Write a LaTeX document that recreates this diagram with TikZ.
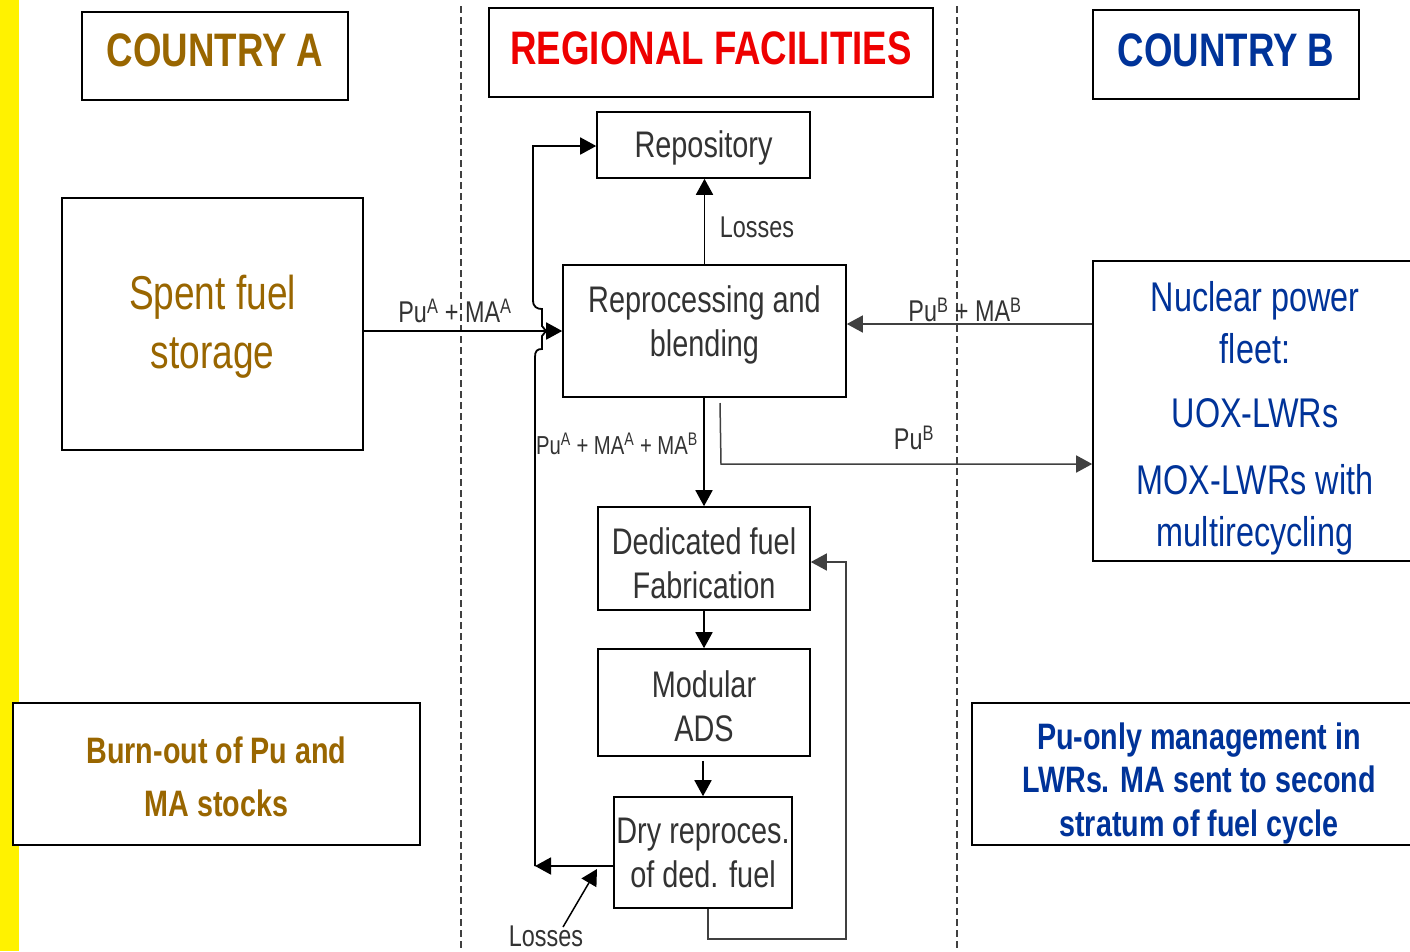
\documentclass[tikz,border=0pt]{standalone}
\usepackage{fontspec}
\setmainfont{Liberation Sans}[FakeStretch=0.78]
\usetikzlibrary{arrows.meta}
\definecolor{brownA}{HTML}{996600}
\definecolor{blueB}{HTML}{003399}
\definecolor{redR}{HTML}{EE0000}
\definecolor{ink}{HTML}{333333}
\definecolor{wire}{HTML}{404040}
\begin{document}
\begin{tikzpicture}[x=1pt,y=-1pt,
  box/.style={draw=black,line width=1.6pt,fill=white,inner sep=0pt,align=center,text=ink},
  txt/.style={inner sep=0pt,align=center},
  headtxt/.style={txt,font=\bfseries\fontsize{47}{56}\selectfont},
  midtxt/.style={txt,text=ink,font=\fontsize{37}{44}\selectfont},
  lbl/.style={inner sep=0pt,text=ink,font=\fontsize{30}{36}\selectfont},
  conn/.style={line width=1.8pt,draw=black,-{Triangle[length=16pt,width=17pt]}},
  gconn/.style={conn,draw=wire,line width=1.5pt},
  zone/.style={draw=wire,line width=1.6pt,dash pattern=on 7pt off 4pt}]
\useasboundingbox (0,0) rectangle (1410,951);
\fill[white] (0,0) rectangle (1410,951);
\fill[yellow] (0,0) rectangle (19,951);
% zone separators
\draw[zone] (461,6) -- (461,951);
\draw[zone] (957,6) -- (957,951);

% headers
\node[box,minimum width=266pt,minimum height=88pt] (cA) at (215,56) {};
\node[headtxt,text=brownA] (cAT) at ([yshift=5.5pt]cA.center) {COUNTRY A};
\node[box,minimum width=444pt,minimum height=89pt] (reg) at (711,52.5) {};
\node[headtxt,text=redR] (regT) at ([yshift=4.5pt]reg.center) {REGIONAL FACILITIES};
\node[box,minimum width=266pt,minimum height=89pt] (cB) at (1226,54.5) {};
\node[headtxt,text=blueB] (cBT) at ([yshift=4.5pt]cB.center) {COUNTRY B};

% country A
\node[box,minimum width=301pt,minimum height=252pt] (sfs) at (212.5,324) {};
\node[txt,text=brownA,font=\fontsize{47.5}{59}\selectfont] (sfsT) at ([yshift=-2.5pt]sfs.center) {Spent fuel\\storage};
\node[box,minimum width=407pt,minimum height=142pt] (burn) at (216.5,774) {};
\node[txt,text=brownA,font=\bfseries\fontsize{36.8}{53}\selectfont] (burnT) at ([yshift=-3pt]burn.center) {Burn-out of Pu and\\MA stocks};

% regional facilities
\node[box,minimum width=213pt,minimum height=66pt] (repo) at (703.5,145) {};
\node[midtxt] (repoT) at ([yshift=-3pt]repo.center) {Repository};
\node[box,minimum width=283pt,minimum height=132pt] (rep) at (704.5,331) {};
\node[midtxt] (repT) at ([yshift=6pt]rep.center) {Reprocessing and\\blending};
\node[box,minimum width=212pt,minimum height=103pt] (ded) at (704,558.5) {};
\node[midtxt] (dedT) at ([yshift=-5pt]ded.center) {Dedicated fuel\\Fabrication};
\node[box,minimum width=212pt,minimum height=107pt] (mod) at (704,702.5) {};
\node[midtxt] (modT) at ([yshift=-3.5pt]mod.center) {Modular\\ADS};
\node[box,minimum width=178pt,minimum height=111pt] (dry) at (703,852.5) {};
\node[midtxt] (dryT) at (dry.center) {Dry reproces.\\of ded. fuel};

% country B
\node[box,minimum width=324pt,minimum height=300pt] (fleet) at (1255,411) {};
\node[txt,text=blueB,font=\fontsize{41.5}{52}\selectfont] (fleetT) at ([yshift=-7pt]fleet.center) {Nuclear power\\fleet:\\[12pt]UOX-LWRs\\[15pt]MOX-LWRs with\\multirecycling};
\node[box,minimum width=454pt,minimum height=142pt] (puonly) at (1199,774) {};
\node[txt,text=blueB,font=\bfseries\fontsize{36.8}{43.5}\selectfont] (puonlyT) at ([yshift=-9pt]puonly.center) {Pu-only management in\\LWRs. MA sent to second\\stratum of fuel cycle};

% flows into reprocessing
\draw[conn] (sfs.east |- rep.west) -- (rep.west);
\node[lbl] (lA) at (455,311) {Pu\textsuperscript{A} + MA\textsuperscript{A}};
\draw[gconn] ([yshift=7pt]rep.east -| fleet.west) -- ([yshift=7pt]rep.east);
\node[lbl] (lB) at (965,310) {Pu\textsuperscript{B} + MA\textsuperscript{B}};

% losses to repository
\draw[conn] (rep.north) -- (rep.north |- repo.south);
\node[lbl] (loss1) at (757,227) {Losses};

% main chain
\draw[conn] (rep.south -| ded.north) -- (ded.north);
\node[lbl,font=\fontsize{26}{30}\selectfont] (lAB) at (617,444) {Pu\textsuperscript{A} + MA\textsuperscript{A} + MA\textsuperscript{B}};
\draw[conn] (ded.south) -- (mod.north);
\draw[conn] ([yshift=-4pt]mod.south -| dry.north) -- (dry.north);

% plutonium back to country B
\coordinate (puBstart) at (720,403);
\coordinate (puBturn) at (721,464);
\draw[gconn] (puBstart) -- (puBturn) -- (puBturn -| fleet.west);
\node[lbl] (lPuB) at (914,438) {Pu\textsuperscript{B}};

% recycle loop of the dedicated fuel
\coordinate (loopBR) at (846,939);
\draw[gconn] ([xshift=5pt]dry.south) |- (loopBR) |- ([yshift=-3.5pt]ded.east);

% trunk with brace: residues to the repository
\coordinate (trunkTop) at (533,146);
\coordinate (trunkBot) at (535,866);
\draw[conn] (dry.west |- trunkBot) -- (trunkBot);
\draw[conn] (trunkBot) -- (535,357) .. controls (535,351) and (537,349) .. (542,349)
  -- (542,336) -- (546,331) -- (542,326) -- (542,309)
  .. controls (537,309) and (533,307) .. (533,300) -- (trunkTop) -- (repo.west |- trunkTop);

% losses of the dry process
\node[lbl] (loss2) at (546,936) {Losses};
\coordinate (lossFrom) at (563,927);
\coordinate (lossTo) at (597,869);
\draw[conn,line width=1.5pt] (lossFrom) -- (lossTo);
\end{tikzpicture}
\end{document}
